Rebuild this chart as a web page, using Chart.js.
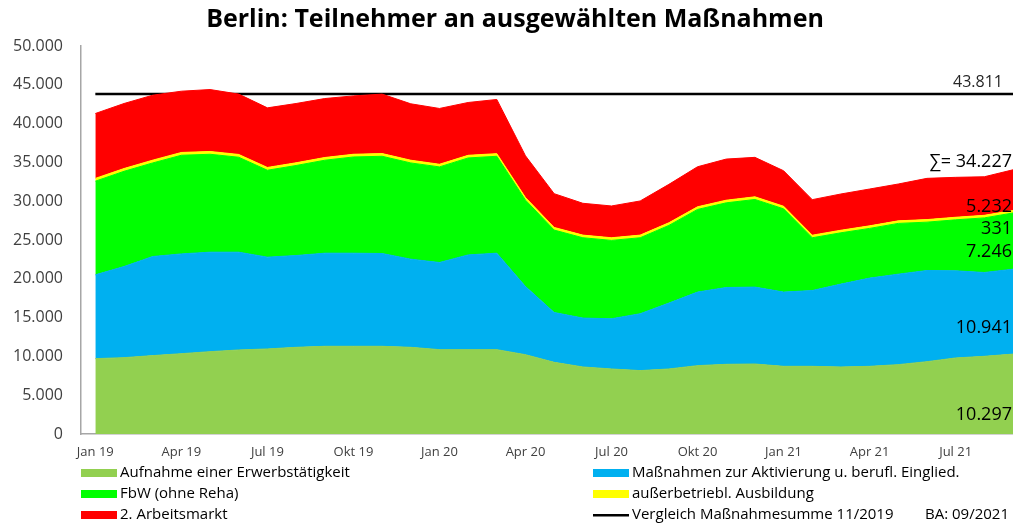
<!doctype html>
<html>

<head>
	<title>Berlin: Teilnehmer an ausgewählten Maßnahmen</title>
	<script src="https://cdn.jsdelivr.net/npm/chart.js@4.4.0/dist/chart.umd.min.js"></script>
	<style>
		html, body { margin: 0; padding: 0; background: #fff; }
		#canvas-holder { width: 1013px; height: 526px; }
	</style>
</head>

<body>
	<div id="canvas-holder">
		<canvas id="chart-area" width="1013" height="526"></canvas>
	</div>

	<script>
		// Monate Jan 19 .. Sep 21
		var months = ['Jan 19', 'Feb 19', 'Mrz 19', 'Apr 19', 'Mai 19', 'Jun 19', 'Jul 19', 'Aug 19', 'Sep 19', 'Okt 19', 'Nov 19', 'Dez 19',
			'Jan 20', 'Feb 20', 'Mrz 20', 'Apr 20', 'Mai 20', 'Jun 20', 'Jul 20', 'Aug 20', 'Sep 20', 'Okt 20', 'Nov 20', 'Dez 20',
			'Jan 21', 'Feb 21', 'Mrz 21', 'Apr 21', 'Mai 21', 'Jun 21', 'Jul 21', 'Aug 21', 'Sep 21'];

		var aufnahme = [9710, 9840, 10100, 10350, 10610, 10830, 10960, 11170, 11300, 11300, 11300, 11170,
			10870, 10870, 10870, 10220, 9240, 8640, 8380, 8170, 8380, 8810, 8980, 9020,
			8720, 8720, 8640, 8720, 8940, 9320, 9800, 10010, 10297];
		var aktivierung = [10800, 11740, 12770, 12860, 12820, 12600, 11830, 11830, 12000, 12000, 11960, 11360,
			11230, 12210, 12430, 8790, 6420, 6300, 6470, 7330, 8490, 9480, 9900, 9910,
			9570, 9770, 10680, 11370, 11660, 11750, 11230, 10800, 10941];
		var fbw = [12070, 12270, 12060, 12710, 12620, 12235, 11200, 11600, 11980, 12400, 12530, 12400,
			12320, 12495, 12490, 11125, 10620, 10350, 10100, 9790, 10010, 10650, 10910, 11295,
			10730, 6800, 6610, 6405, 6540, 6230, 6570, 7040, 7246];
		var ausbildung = [360, 360, 360, 360, 360, 360, 360, 350, 350, 350, 350, 350,
			340, 340, 340, 340, 340, 340, 340, 340, 340, 340, 340, 340,
			330, 330, 330, 330, 330, 330, 330, 330, 331];
		var arbeitsmarkt = [8360, 8380, 8370, 7895, 7980, 7775, 7680, 7640, 7600, 7520, 7660, 7270,
			7190, 6805, 6980, 5375, 4350, 4100, 4095, 4400, 4950, 5160, 5300, 5085,
			4575, 4580, 4670, 4745, 4745, 5315, 5145, 4970, 5232];

		var refValue = 43811;   // Vergleich Maßnahmesumme 11/2019
		var sumLast = 34227;
		var tickMonths = [0, 3, 6, 9, 12, 15, 18, 21, 24, 27, 30];
		var yTicks = [0, 5000, 10000, 15000, 20000, 25000, 30000, 35000, 40000, 45000, 50000];

		function fmt(v) {
			return String(v).replace(/\B(?=(\d{3})+(?!\d))/g, '.');
		}

		function pts(arr) {
			return arr.map(function(v, i) { return { x: i, y: v }; });
		}

		function area(label, values, color, fill) {
			return {
				label: label,
				data: pts(values),
				backgroundColor: color,
				borderColor: color,
				borderWidth: 1,
				pointRadius: 0,
				fill: fill,
				stack: 'main',
				tension: 0
			};
		}

		var datasets = [
			area('Aufnahme einer Erwerbstätigkeit', aufnahme, '#92d050', 'origin'),
			area('Maßnahmen zur Aktivierung u. berufl. Einglied.', aktivierung, '#00b0f0', '-1'),
			area('FbW (ohne Reha)', fbw, '#00ff00', '-1'),
			area('außerbetriebl. Ausbildung', ausbildung, '#ffff00', '-1'),
			area('2. Arbeitsmarkt', arbeitsmarkt, '#ff0000', '-1'),
			{
				label: 'Vergleich Maßnahmesumme 11/2019',
				data: pts(months.map(function() { return refValue; })),
				borderColor: '#000',
				backgroundColor: '#000',
				borderWidth: 2.5,
				pointRadius: 0,
				fill: false,
				stack: 'ref'
			}
		];

		// Titel, Beschriftungen rechts und Legende
		var extras = {
			id: 'extras',
			afterDraw: function(chart) {
				var c = chart.ctx;
				var y = chart.scales.y;
				c.save();
				c.fillStyle = '#000';
				c.textBaseline = 'middle';

				c.font = 'bold 25px "Open Sans"';
				c.textAlign = 'center';
				c.fillText('Berlin: Teilnehmer an ausgewählten Maßnahmen', 515, 20);

				c.textAlign = 'right';
				c.font = '16px "Open Sans"';
				c.fillStyle = '#262626';
				c.fillText(fmt(refValue), 1003, y.getPixelForValue(refValue) - 12);

				var n = months.length - 1;
				c.fillStyle = '#000';
				c.font = '18px "Open Sans"';
				c.fillText('∑= ' + fmt(sumLast), 1012, 162);
				c.fillText(fmt(arbeitsmarkt[n]), 1012, 207);
				c.fillText(fmt(ausbildung[n]), 1012, 229);
				c.fillText(fmt(fbw[n]), 1012, 252);
				c.fillText(fmt(aktivierung[n]), 1012, 328);
				c.fillText(fmt(aufnahme[n]), 1012, 415);

				// Legende in zwei Spalten
				c.textAlign = 'left';
				c.font = '15px "Open Sans"';
				var colX = [81, 593];
				var rowY = [473, 494, 515];
				chart.data.datasets.forEach(function(ds, i) {
					var x = colX[i % 2];
					var yy = rowY[Math.floor(i / 2)];
					if (ds.fill === false) {
						c.fillStyle = ds.borderColor;
						c.fillRect(x, yy - 1, 36, 2.5);
					} else {
						c.fillStyle = ds.backgroundColor;
						c.fillRect(x, yy - 4, 36, 8);
					}
					c.fillStyle = '#000';
					c.fillText(ds.label, x + 39, yy);
				});
				c.textAlign = 'right';
				c.fillText('BA: 09/2021', 1009, 515);
				c.restore();
			}
		};

		var ctx = document.getElementById('chart-area').getContext('2d');
		window.myChart = new Chart(ctx, {
			type: 'line',
			data: { datasets: datasets },
			plugins: [extras],
			options: {
				responsive: false,
				animation: false,
				devicePixelRatio: 1,
				layout: { padding: { top: 46, right: 0, left: 0, bottom: 0 } },
				plugins: {
					legend: { display: false },
					title: { display: false },
					tooltip: { enabled: false }
				},
				scales: {
					x: {
						type: 'linear',
						min: -0.5,
						max: months.length - 1,
						grid: { display: false, drawTicks: false },
						border: { display: true, color: '#a6a6a6', width: 1.5 },
						afterBuildTicks: function(s) {
							s.ticks = tickMonths.map(function(v) { return { value: v }; });
						},
						afterFit: function(s) { s.height = 92; },
						ticks: {
							autoSkip: false,
							maxRotation: 0,
							padding: 10,
							color: '#404040',
							font: { family: 'Open Sans', size: 13 },
							callback: function(v) { return months[v]; }
						}
					},
					y: {
						stacked: true,
						min: 0,
						max: 50000,
						grid: { display: false, drawTicks: false },
						border: { display: true, color: '#a6a6a6', width: 1.5 },
						afterBuildTicks: function(s) {
							s.ticks = yTicks.map(function(v) { return { value: v }; });
						},
						afterFit: function(s) { s.width = 81; },
						ticks: {
							padding: 18,
							color: '#404040',
							font: { family: 'Open Sans', size: 16 },
							callback: function(v) { return fmt(v); }
						}
					}
				}
			}
		});
	</script>
</body>

</html>
